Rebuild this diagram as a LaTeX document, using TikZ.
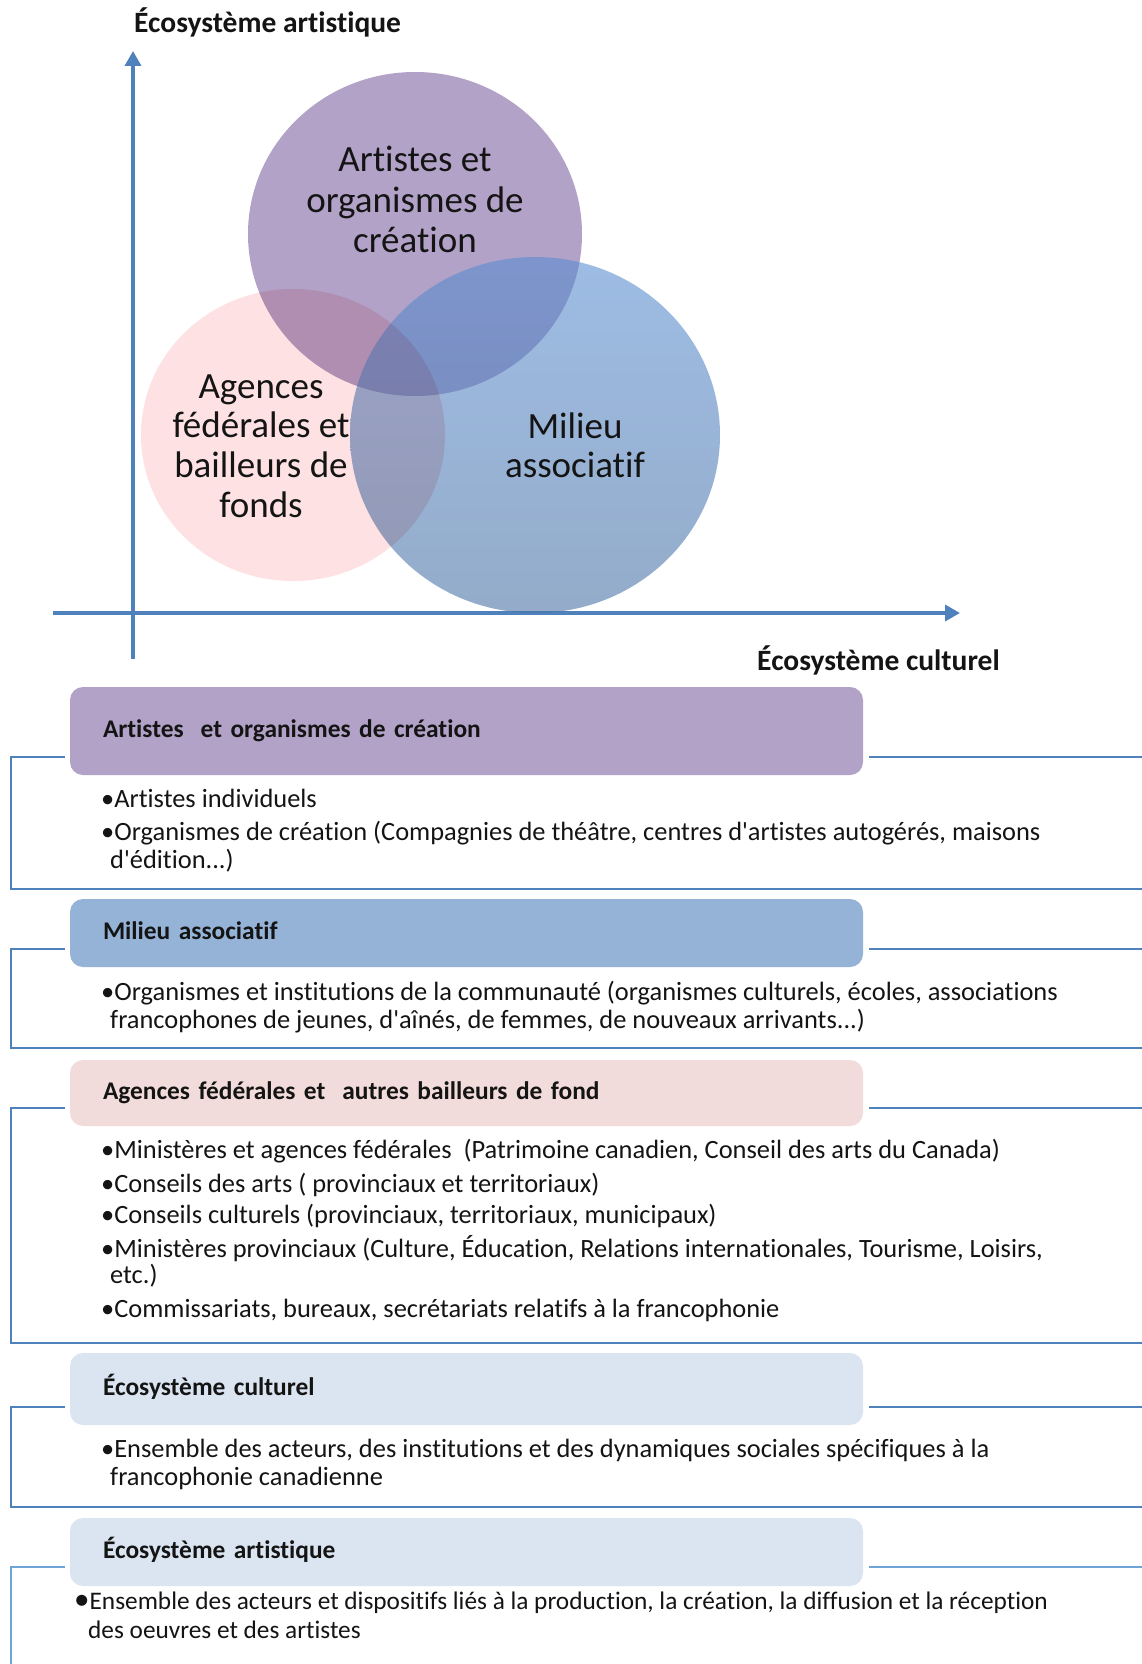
\documentclass[tikz,border=0pt]{standalone}
\usepackage{fontspec}
\defaultfontfeatures{}
\setmainfont{Carlito}[Ligatures={TeXOff,NoCommon}]
\usetikzlibrary{arrows.meta,shapes.geometric}
\definecolor{axisblue}{RGB}{79,129,189}
\definecolor{framelight}{RGB}{110,165,215}
\definecolor{purplefill}{RGB}{128,100,162}
\definecolor{pinkfill}{RGB}{253,225,227}
\definecolor{bluetop}{RGB}{88,141,209}
\definecolor{bluebot}{RGB}{71,112,164}
\definecolor{headpurple}{RGB}{178,162,199}
\definecolor{headblue}{RGB}{149,179,215}
\definecolor{headpink}{RGB}{242,220,219}
\definecolor{headpale}{RGB}{219,229,241}
\definecolor{textdark}{RGB}{20,20,20}
\newcommand\bodysize{\fontsize{26.4}{28}\selectfont}
\newcommand\lastsize{\fontsize{25.3}{28}\selectfont}
\newcommand\headsize{\fontsize{25.4}{28}\selectfont\bfseries}
\newcommand\circsize{\fontsize{37}{40}\selectfont}
\newcommand\titlesize{\fontsize{29.5}{30}\selectfont\bfseries}
\begin{document}
\begin{tikzpicture}[x=1pt,y=-1pt,
  axisline/.style={draw=axisblue,line width=3.5pt,-{Triangle[length=15pt,width=16pt]}},
  frame/.style={draw=axisblue,line width=2.2pt,line join=miter},
  framel/.style={draw=framelight,line width=2.2pt,line join=miter},
  bubble/.style={ellipse,inner sep=0pt},
  circtext/.style={anchor=base,inner sep=0pt,font=\circsize,text=textdark},
  axistitle/.style={anchor=base west,inner sep=0pt,font=\titlesize,text=textdark},
  headbox/.style={rectangle,rounded corners=13pt,minimum width=793pt,inner xsep=33pt,inner ysep=0pt,
     text width=727pt,align=left,text height=16pt,text depth=4pt,font=\headsize,text=textdark},
  item/.style={anchor=base west,inner sep=0pt,font=\bodysize,text=textdark},
  lastitem/.style={item,font=\lastsize}]
\path[use as bounding box] (0,0) rectangle (1142,1664);
\fill[white] (0,0) rectangle (1142,1664);

% titles and axes
\node[axistitle] (ytitle) at (134,33) {Écosystème artistique};
\node[axistitle] (xtitle) at (757,670) {Écosystème culturel};
\coordinate (ybot) at (133,659);
\coordinate (ytop) at (133,51);
\coordinate (xleft) at (53,613);
\coordinate (xright) at (960,613);
\draw[axisline] (ybot) -- (ytop);
\draw[axisline] (xleft) -- (xright);

% circles
\node[bubble,minimum width=334pt,minimum height=324pt,fill=purplefill,fill opacity=0.6] (cart) at (415,234) {};
\node[bubble,minimum width=370pt,minimum height=356pt,top color=bluetop,bottom color=bluebot,fill opacity=0.58] (cmil) at (535,435) {};
\begin{scope}[blend mode=multiply]
\node[bubble,minimum width=304pt,minimum height=292pt,fill=pinkfill] (cage) at (293,435) {};
\end{scope}

\node[circtext] (ta1) at (415,172) {Artistes et};
\node[circtext] (ta2) at (415,212) {organismes de};
\node[circtext] (ta3) at (415,252) {création};
\node[circtext] (tg1) at (261,398) {Agences};
\node[circtext] (tg2) at (261,437) {fédérales et};
\node[circtext] (tg3) at (261,477) {bailleurs de};
\node[circtext] (tg4) at (261,517) {fonds};
\node[circtext] (tm1) at (575,438) {Milieu};
\node[circtext] (tm2) at (575,477) {associatif};

% section 1
\node[headbox,fill=headpurple,minimum height=88pt] (head1) at (466.5,731) {Artistes\ \ et organismes de création};
\draw[frame] (65,757) -- (11,757) -- (11,889) -- (1142,889);
\draw[frame] (869,757) -- (1142,757);
\node[item] (i11) at (101,807) {•Artistes individuels};
\node[item] (i12) at (101,840) {•Organismes de création (Compagnies de théâtre, centres d'artistes autogérés, maisons};
\node[item] (i13) at (110,868) {d'édition...)};

% section 2
\node[headbox,fill=headblue,minimum height=68pt] (head2) at (466.5,933) {Milieu associatif};
\draw[frame] (65,949) -- (11,949) -- (11,1048) -- (1142,1048);
\draw[frame] (869,949) -- (1142,949);
\node[item] (i21) at (101,1000) {•Organismes et institutions de la communauté (organismes culturels, écoles, associations};
\node[item] (i22) at (110,1028) {francophones de jeunes, d'aînés, de femmes, de nouveaux arrivants...)};

% section 3
\node[headbox,fill=headpink,minimum height=66pt] (head3) at (466.5,1093) {Agences fédérales et\ \ autres bailleurs de fond};
\draw[frame] (65,1108) -- (11,1108) -- (11,1343) -- (1142,1343);
\draw[frame] (869,1108) -- (1142,1108);
\node[item] (i31) at (101,1158) {•Ministères et agences fédérales\ \ (Patrimoine canadien, Conseil des arts du Canada)};
\node[item] (i32) at (101,1192) {•Conseils des arts ( provinciaux et territoriaux)};
\node[item] (i33) at (101,1223) {•Conseils culturels (provinciaux, territoriaux, municipaux)};
\node[item] (i34) at (101,1257) {•Ministères provinciaux (Culture, Éducation, Relations internationales, Tourisme, Loisirs,};
\node[item] (i35) at (110,1283) {etc.)};
\node[item] (i36) at (101,1317) {•Commissariats, bureaux, secrétariats relatifs à la francophonie};

% section 4
\node[headbox,fill=headpale,minimum height=72pt] (head4) at (466.5,1389) {Écosystème culturel};
\draw[frame] (65,1407) -- (11,1407) -- (11,1507) -- (1142,1507);
\draw[frame] (869,1407) -- (1142,1407);
\node[item] (i41) at (101,1457) {•Ensemble des acteurs, des institutions et des dynamiques sociales spécifiques à la};
\node[item] (i42) at (110,1485) {francophonie canadienne};

% section 5
\node[headbox,fill=headpale,minimum height=68pt] (head5) at (466.5,1552) {Écosystème artistique};
\draw[framel] (65,1567) -- (11,1567) -- (11,1664);
\draw[framel] (869,1567) -- (1142,1567);
\node[lastitem] (i51) at (74,1609) {{\fontsize{31}{28}\selectfont•}Ensemble des acteurs et dispositifs liés à la production, la création, la diffusion et la réception};
\node[lastitem] (i52) at (88,1638) {des oeuvres et des artistes};
\end{tikzpicture}
\end{document}
